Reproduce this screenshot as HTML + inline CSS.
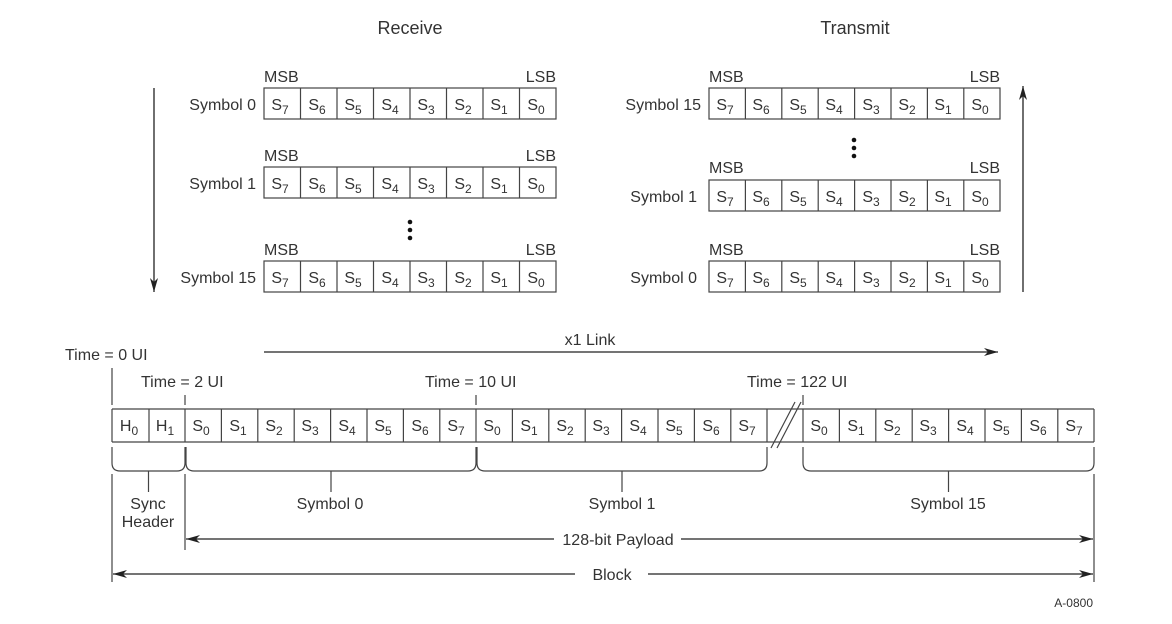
<!DOCTYPE html>
<html><head><meta charset="utf-8"><style>
html,body{margin:0;padding:0;background:#fff}
svg{display:block}
text{font-family:"Liberation Sans",Arial,sans-serif;fill:#333;font-size:16px}
.c{text-anchor:middle}
.r{text-anchor:end}
</style></head><body>
<svg width="1172" height="624" viewBox="0 0 1172 624" xmlns="http://www.w3.org/2000/svg">
<defs>
<marker id="ah" markerWidth="14" markerHeight="8" refX="14" refY="4" orient="auto" markerUnits="userSpaceOnUse"><path d="M0,0 L14,4 L0,8 L4,4 Z" fill="#222"/></marker>
</defs>
<g stroke="#444" fill="none" stroke-width="1.2">
<!-- receive rows -->
<rect x="264" y="88" width="292" height="31"/><rect x="264" y="167" width="292" height="31"/><rect x="264" y="261" width="292" height="31"/>
<path d="M300.5,88V119M337,88V119M373.5,88V119M410,88V119M446.5,88V119M483,88V119M519.5,88V119"/>
<path d="M300.5,167V198M337,167V198M373.5,167V198M410,167V198M446.5,167V198M483,167V198M519.5,167V198"/>
<path d="M300.5,261V292M337,261V292M373.5,261V292M410,261V292M446.5,261V292M483,261V292M519.5,261V292"/>
<!-- transmit rows -->
<rect x="709" y="88" width="291" height="31"/><rect x="709" y="180" width="291" height="31"/><rect x="709" y="261" width="291" height="31"/>
<path d="M745.4,88V119M781.8,88V119M818.2,88V119M854.6,88V119M891,88V119M927.4,88V119M963.8,88V119"/>
<path d="M745.4,180V211M781.8,180V211M818.2,180V211M854.6,180V211M891,180V211M927.4,180V211M963.8,180V211"/>
<path d="M745.4,261V292M781.8,261V292M818.2,261V292M854.6,261V292M891,261V292M927.4,261V292M963.8,261V292"/>
<!-- bottom row -->
<path d="M112,409H1094M112,442H1094M112,409V442M1094,409V442"/>
<path d="M149,409V442M185,409V442M221.4,409V442M257.8,409V442M294.2,409V442M330.6,409V442M367,409V442M403.4,409V442M439.8,409V442M476,409V442"/>
<path d="M512.4,409V442M548.8,409V442M585.2,409V442M621.6,409V442M658,409V442M694.4,409V442M730.8,409V442M767,409V442"/>
<path d="M803,409V442M839.4,409V442M875.8,409V442M912.2,409V442M948.6,409V442M985,409V442M1021.4,409V442M1057.8,409V442"/>
<path d="M771,448L795,402M777,448L801,402" stroke="#444"/>
<!-- ticks -->
<path d="M112,368V405M185,395V405M476,395V405M803,395V405"/>
<!-- braces -->
<path d="M112,447V463Q112,471 120,471H177Q185,471 185,463V447M148.5,471V492"/>
<path d="M186,447V463Q186,471 194,471H468Q476,471 476,463V447M331,471V492"/>
<path d="M477,447V463Q477,471 485,471H759Q767,471 767,463V447M622,471V492"/>
<path d="M803,447V463Q803,471 811,471H1086Q1094,471 1094,463V447M948.5,471V492"/>
<!-- verticals -->
<path d="M112,474V582M185,474V550M1094,474V582"/>
</g>
<g stroke="#222" stroke-width="1.3" fill="none">
<line x1="154" y1="88" x2="154" y2="292" marker-end="url(#ah)"/>
<line x1="1023" y1="292" x2="1023" y2="86" marker-end="url(#ah)"/>
<line x1="264" y1="352" x2="998" y2="352" marker-end="url(#ah)"/>
<line x1="554" y1="539" x2="186" y2="539" marker-end="url(#ah)"/>
<line x1="681" y1="539" x2="1093" y2="539" marker-end="url(#ah)"/>
<line x1="575" y1="574" x2="113" y2="574" marker-end="url(#ah)"/>
<line x1="648" y1="574" x2="1093" y2="574" marker-end="url(#ah)"/>
</g>
<g fill="#111">
<circle cx="410" cy="222" r="2.3"/><circle cx="410" cy="230" r="2.3"/><circle cx="410" cy="238" r="2.3"/>
<circle cx="854" cy="140" r="2.3"/><circle cx="854" cy="148" r="2.3"/><circle cx="854" cy="156" r="2.3"/>
</g>
<text class="c" x="410" y="34" style="font-size:18px">Receive</text>
<text class="c" x="855" y="34" style="font-size:18px">Transmit</text>
<!-- MSB/LSB -->
<text x="264" y="82">MSB</text><text class="r" x="556" y="82">LSB</text>
<text x="264" y="161">MSB</text><text class="r" x="556" y="161">LSB</text>
<text x="264" y="255">MSB</text><text class="r" x="556" y="255">LSB</text>
<text x="709" y="82">MSB</text><text class="r" x="1000" y="82">LSB</text>
<text x="709" y="173">MSB</text><text class="r" x="1000" y="173">LSB</text>
<text x="709" y="255">MSB</text><text class="r" x="1000" y="255">LSB</text>
<text class="r" x="256" y="110">Symbol 0</text>
<text class="r" x="256" y="189">Symbol 1</text>
<text class="r" x="256" y="283">Symbol 15</text>
<text class="r" x="701" y="110">Symbol 15</text>
<text class="r" x="697" y="202">Symbol 1</text>
<text class="r" x="697" y="283">Symbol 0</text>
<!-- receive row cells -->
<g class="c" style="text-anchor:middle">
<text x="280" y="110">S<tspan font-size="12" dy="4">7</tspan></text><text x="317" y="110">S<tspan font-size="12" dy="4">6</tspan></text><text x="353" y="110">S<tspan font-size="12" dy="4">5</tspan></text><text x="390" y="110">S<tspan font-size="12" dy="4">4</tspan></text><text x="426" y="110">S<tspan font-size="12" dy="4">3</tspan></text><text x="463" y="110">S<tspan font-size="12" dy="4">2</tspan></text><text x="499" y="110">S<tspan font-size="12" dy="4">1</tspan></text><text x="536" y="110">S<tspan font-size="12" dy="4">0</tspan></text>
<text x="280" y="189">S<tspan font-size="12" dy="4">7</tspan></text><text x="317" y="189">S<tspan font-size="12" dy="4">6</tspan></text><text x="353" y="189">S<tspan font-size="12" dy="4">5</tspan></text><text x="390" y="189">S<tspan font-size="12" dy="4">4</tspan></text><text x="426" y="189">S<tspan font-size="12" dy="4">3</tspan></text><text x="463" y="189">S<tspan font-size="12" dy="4">2</tspan></text><text x="499" y="189">S<tspan font-size="12" dy="4">1</tspan></text><text x="536" y="189">S<tspan font-size="12" dy="4">0</tspan></text>
<text x="280" y="283">S<tspan font-size="12" dy="4">7</tspan></text><text x="317" y="283">S<tspan font-size="12" dy="4">6</tspan></text><text x="353" y="283">S<tspan font-size="12" dy="4">5</tspan></text><text x="390" y="283">S<tspan font-size="12" dy="4">4</tspan></text><text x="426" y="283">S<tspan font-size="12" dy="4">3</tspan></text><text x="463" y="283">S<tspan font-size="12" dy="4">2</tspan></text><text x="499" y="283">S<tspan font-size="12" dy="4">1</tspan></text><text x="536" y="283">S<tspan font-size="12" dy="4">0</tspan></text>
<!-- transmit -->
<text x="725" y="110">S<tspan font-size="12" dy="4">7</tspan></text><text x="761" y="110">S<tspan font-size="12" dy="4">6</tspan></text><text x="798" y="110">S<tspan font-size="12" dy="4">5</tspan></text><text x="834" y="110">S<tspan font-size="12" dy="4">4</tspan></text><text x="871" y="110">S<tspan font-size="12" dy="4">3</tspan></text><text x="907" y="110">S<tspan font-size="12" dy="4">2</tspan></text><text x="943" y="110">S<tspan font-size="12" dy="4">1</tspan></text><text x="980" y="110">S<tspan font-size="12" dy="4">0</tspan></text>
<text x="725" y="202">S<tspan font-size="12" dy="4">7</tspan></text><text x="761" y="202">S<tspan font-size="12" dy="4">6</tspan></text><text x="798" y="202">S<tspan font-size="12" dy="4">5</tspan></text><text x="834" y="202">S<tspan font-size="12" dy="4">4</tspan></text><text x="871" y="202">S<tspan font-size="12" dy="4">3</tspan></text><text x="907" y="202">S<tspan font-size="12" dy="4">2</tspan></text><text x="943" y="202">S<tspan font-size="12" dy="4">1</tspan></text><text x="980" y="202">S<tspan font-size="12" dy="4">0</tspan></text>
<text x="725" y="283">S<tspan font-size="12" dy="4">7</tspan></text><text x="761" y="283">S<tspan font-size="12" dy="4">6</tspan></text><text x="798" y="283">S<tspan font-size="12" dy="4">5</tspan></text><text x="834" y="283">S<tspan font-size="12" dy="4">4</tspan></text><text x="871" y="283">S<tspan font-size="12" dy="4">3</tspan></text><text x="907" y="283">S<tspan font-size="12" dy="4">2</tspan></text><text x="943" y="283">S<tspan font-size="12" dy="4">1</tspan></text><text x="980" y="283">S<tspan font-size="12" dy="4">0</tspan></text>
<!-- bottom -->
<text x="129" y="431">H<tspan font-size="12" dy="4">0</tspan></text><text x="165" y="431">H<tspan font-size="12" dy="4">1</tspan></text>
<text x="201" y="431">S<tspan font-size="12" dy="4">0</tspan></text><text x="238" y="431">S<tspan font-size="12" dy="4">1</tspan></text><text x="274" y="431">S<tspan font-size="12" dy="4">2</tspan></text><text x="310" y="431">S<tspan font-size="12" dy="4">3</tspan></text><text x="347" y="431">S<tspan font-size="12" dy="4">4</tspan></text><text x="383" y="431">S<tspan font-size="12" dy="4">5</tspan></text><text x="420" y="431">S<tspan font-size="12" dy="4">6</tspan></text><text x="456" y="431">S<tspan font-size="12" dy="4">7</tspan></text>
<text x="492" y="431">S<tspan font-size="12" dy="4">0</tspan></text><text x="529" y="431">S<tspan font-size="12" dy="4">1</tspan></text><text x="565" y="431">S<tspan font-size="12" dy="4">2</tspan></text><text x="601" y="431">S<tspan font-size="12" dy="4">3</tspan></text><text x="638" y="431">S<tspan font-size="12" dy="4">4</tspan></text><text x="674" y="431">S<tspan font-size="12" dy="4">5</tspan></text><text x="711" y="431">S<tspan font-size="12" dy="4">6</tspan></text><text x="747" y="431">S<tspan font-size="12" dy="4">7</tspan></text>
<text x="819" y="431">S<tspan font-size="12" dy="4">0</tspan></text><text x="856" y="431">S<tspan font-size="12" dy="4">1</tspan></text><text x="892" y="431">S<tspan font-size="12" dy="4">2</tspan></text><text x="928" y="431">S<tspan font-size="12" dy="4">3</tspan></text><text x="965" y="431">S<tspan font-size="12" dy="4">4</tspan></text><text x="1001" y="431">S<tspan font-size="12" dy="4">5</tspan></text><text x="1038" y="431">S<tspan font-size="12" dy="4">6</tspan></text><text x="1074" y="431">S<tspan font-size="12" dy="4">7</tspan></text>
</g>
<text class="c" x="590" y="345">x1 Link</text>
<text x="65" y="360">Time = 0 UI</text>
<text x="141" y="387">Time = 2 UI</text>
<text x="425" y="387">Time = 10 UI</text>
<text x="747" y="387">Time = 122 UI</text>
<text class="c" x="148" y="509">Sync</text>
<text class="c" x="148" y="527">Header</text>
<text class="c" x="330" y="509">Symbol 0</text>
<text class="c" x="622" y="509">Symbol 1</text>
<text class="c" x="948" y="509">Symbol 15</text>
<text class="c" x="618" y="545">128-bit Payload</text>
<text class="c" x="612" y="580">Block</text>
<text class="r" x="1093" y="607" style="font-size:12px">A-0800</text>
</svg>
</body></html>
